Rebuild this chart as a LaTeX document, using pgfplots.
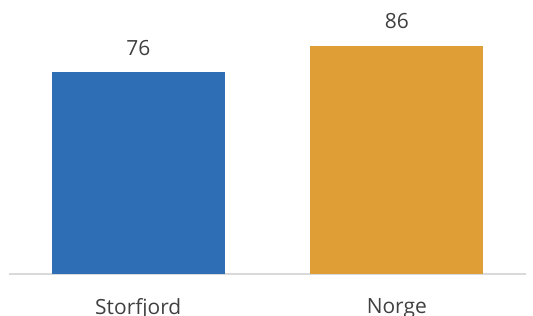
\documentclass[border=0pt]{standalone}
\usepackage{pgfplots}
\pgfplotsset{compat=1.18}
\usepackage{fontspec}
\setmainfont{Open Sans}
\usetikzlibrary{calc}
\definecolor{barblue}{HTML}{2E6EB5}
\definecolor{barorange}{HTML}{E09E36}
\definecolor{txt}{HTML}{404040}
\definecolor{axgray}{HTML}{D9D9D9}
\begin{document}
\begin{tikzpicture}
\begin{axis}[
  scale only axis,
  width=387.75pt, height=198.75pt,
  xmin=-0.5, xmax=1.5, ymin=0, ymax=100,
  axis y line=none,
  axis x line*=bottom,
  x axis line style={draw=axgray, line width=1.5pt, -},
  xtick={0,1}, xticklabels={Storfjord,Norge},
  major tick length=0pt,
  xticklabel style={font=\fontsize{15.7}{18}\selectfont, text=txt, yshift=-15pt},
  ybar, bar width=0.67, bar shift=0pt,
  nodes near coords,
  every node near coord/.append style={font=\fontsize{15.7}{18}\selectfont, text=txt, yshift=9pt},
  /pgf/number format/assume math mode=true,
  clip=false,
]
\addplot[fill=barblue, draw=none] coordinates {(0,76)};
\addplot[fill=barorange, draw=none] coordinates {(1,86)};
\coordinate (sw) at (rel axis cs:0,0);
\coordinate (ne) at (rel axis cs:1,1);
\end{axis}
\pgfresetboundingbox
\path ($(sw)+(-6.75pt,-31.125pt)$) rectangle ($(ne)+(5.25pt,6.375pt)$);
\end{tikzpicture}
\end{document}
